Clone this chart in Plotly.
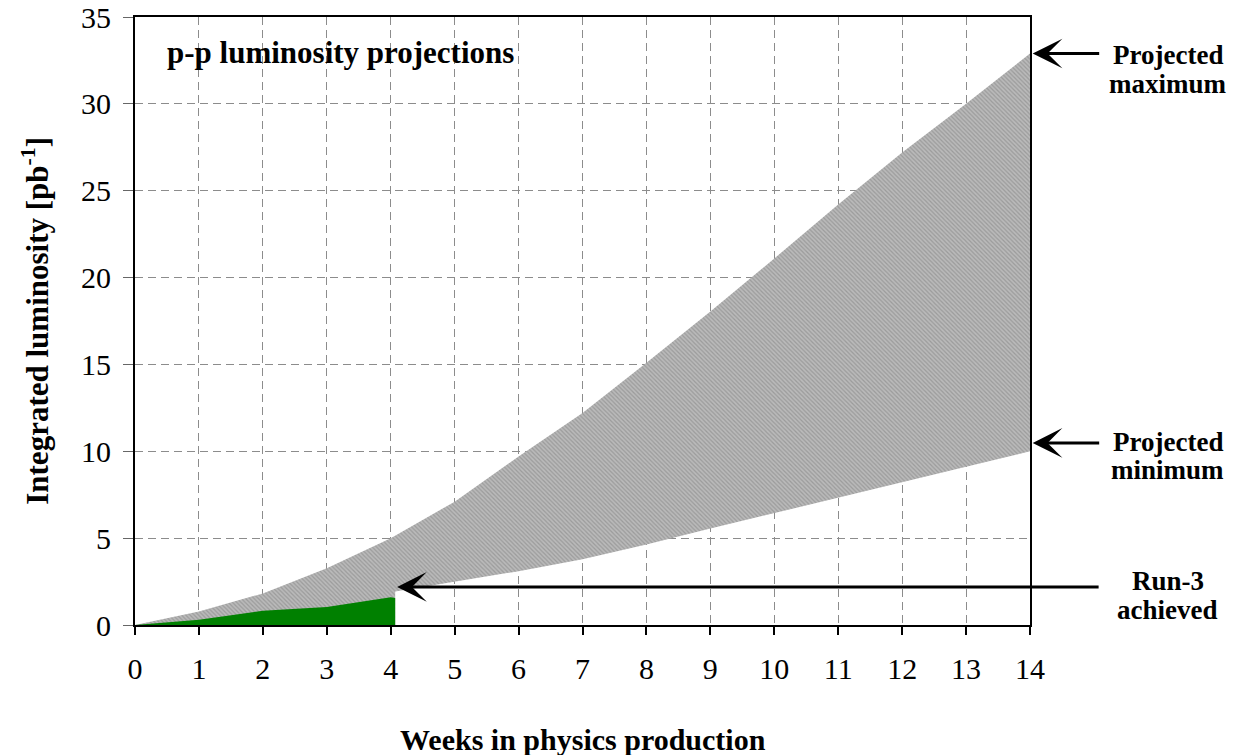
import plotly.graph_objects as go

# Projected maximum (upper edge of band), weekly
weeks_max = [0, 1, 2, 3, 4, 5, 6, 7, 8, 9, 10, 11, 12, 13, 14]
lum_max = [0, 0.77, 1.82, 3.27, 5.0, 7.1, 9.7, 12.2, 15.1, 18.05, 21.1, 24.2, 27.2, 30.0, 32.9]

# Projected minimum (lower edge of band)
weeks_min = [4.07, 5, 6, 7, 8, 9, 10, 11, 12, 13, 14]
lum_min = [1.93, 2.5, 3.1, 3.78, 4.64, 5.55, 6.43, 7.33, 8.23, 9.11, 10.0]

# Run-3 achieved
weeks_run3 = [0, 1, 2, 3, 4, 4.07]
lum_run3 = [0, 0.3, 0.82, 1.04, 1.6, 1.56]

x_ticks = list(range(0, 15))
y_ticks = [0, 5, 10, 15, 20, 25, 30, 35]

FONT = "Liberation Serif, Times New Roman, serif"

fig = go.Figure()

band_x = weeks_max + weeks_min[::-1] + [weeks_min[0], weeks_max[0]]
band_y = lum_max + lum_min[::-1] + [0, 0]
fig.add_trace(go.Scatter(
    x=band_x, y=band_y, mode="lines", fill="toself",
    line=dict(width=0, color="rgba(0,0,0,0)"),
    fillcolor="#b0b0b0",
    fillpattern=dict(shape="\\", fgcolor="#7c7c7c", bgcolor="#bababa", size=3, solidity=0.4),
    hoverinfo="skip", showlegend=False))

run3_x = weeks_run3 + [weeks_run3[-1]]
run3_y = lum_run3 + [0]
fig.add_trace(go.Scatter(
    x=run3_x, y=run3_y, mode="lines", fill="toself",
    line=dict(width=0, color="rgba(0,0,0,0)"),
    fillcolor="#008000", hoverinfo="skip", showlegend=False))

annotations = []
# chart title
annotations.append(dict(xref="paper", yref="paper", x=0.0335, y=0.9424,
                        xanchor="left", yanchor="middle", showarrow=False,
                        text="<b>p-p luminosity projections</b>",
                        font=dict(family=FONT, size=31, color="black")))
# axis titles
annotations.append(dict(xref="paper", yref="paper", x=0.5, y=-0.189,
                        xanchor="center", yanchor="middle", showarrow=False,
                        text="<b>Weeks in physics production</b>",
                        font=dict(family=FONT, size=30, color="black")))
annotations.append(dict(xref="paper", yref="paper", x=-0.112, y=0.5,
                        xanchor="center", yanchor="middle", showarrow=False,
                        textangle=-90,
                        text="<b>Integrated luminosity [pb<sup>-1</sup>]</b>",
                        font=dict(family=FONT, size=31, color="black")))
# arrows
arrow_style = dict(showarrow=True, arrowhead=3, arrowsize=1.65, arrowwidth=3,
                   arrowcolor="black", axref="pixel", ayref="pixel", ay=0,
                   text=" ", font=dict(size=1))
annotations.append(dict(xref="paper", yref="y", x=1.003, y=lum_max[-1], ax=68, **arrow_style))
annotations.append(dict(xref="paper", yref="y", x=1.003, y=10.48, ax=68, **arrow_style))
annotations.append(dict(xref="x", yref="y", x=4.1, y=2.19, ax=703, **arrow_style))
# right-side labels
labels = [("Projected", 0.9375), ("maximum", 0.8898),
          ("Projected", 0.301), ("minimum", 0.255),
          ("Run-3", 0.0724), ("achieved", 0.0247)]
for t, yy in labels:
    annotations.append(dict(xref="paper", yref="paper", x=1.154, y=yy,
                            xanchor="center", yanchor="middle", showarrow=False,
                            text="<b>%s</b>" % t,
                            font=dict(family=FONT, size=27, color="black")))

fig.update_layout(
    width=1241, height=755,
    margin=dict(l=135, r=211, t=17, b=130, autoexpand=False),
    paper_bgcolor="white", plot_bgcolor="white",
    font=dict(family=FONT, size=30, color="black"),
    showlegend=False,
    annotations=annotations,
    xaxis=dict(range=[0, 14], tickvals=x_ticks, ticktext=[str(v) for v in x_ticks],
               automargin=False,
               showgrid=True, gridcolor="#8c8c8c", gridwidth=1, griddash="8px,5px",
               zeroline=False, showline=True, linecolor="black", linewidth=2, mirror=True,
               ticks="outside", ticklen=8, tickwidth=1.5, tickcolor="black",
               ticklabelstandoff=8,
               tickfont=dict(family=FONT, size=30, color="black")),
    yaxis=dict(range=[0, 35], tickvals=y_ticks, ticktext=[str(v) for v in y_ticks],
               automargin=False,
               showgrid=True, gridcolor="#8c8c8c", gridwidth=1, griddash="8px,5px",
               zeroline=False, showline=True, linecolor="black", linewidth=2, mirror=True,
               ticks="outside", ticklen=10, tickwidth=1, tickcolor="#666",
               ticklabelstandoff=6,
               tickfont=dict(family=FONT, size=30, color="black")),
)

fig.write_html("out.html", config={"displayModeBar": False},
               post_script="document.body.style.margin='0';document.body.style.overflow='hidden';")
